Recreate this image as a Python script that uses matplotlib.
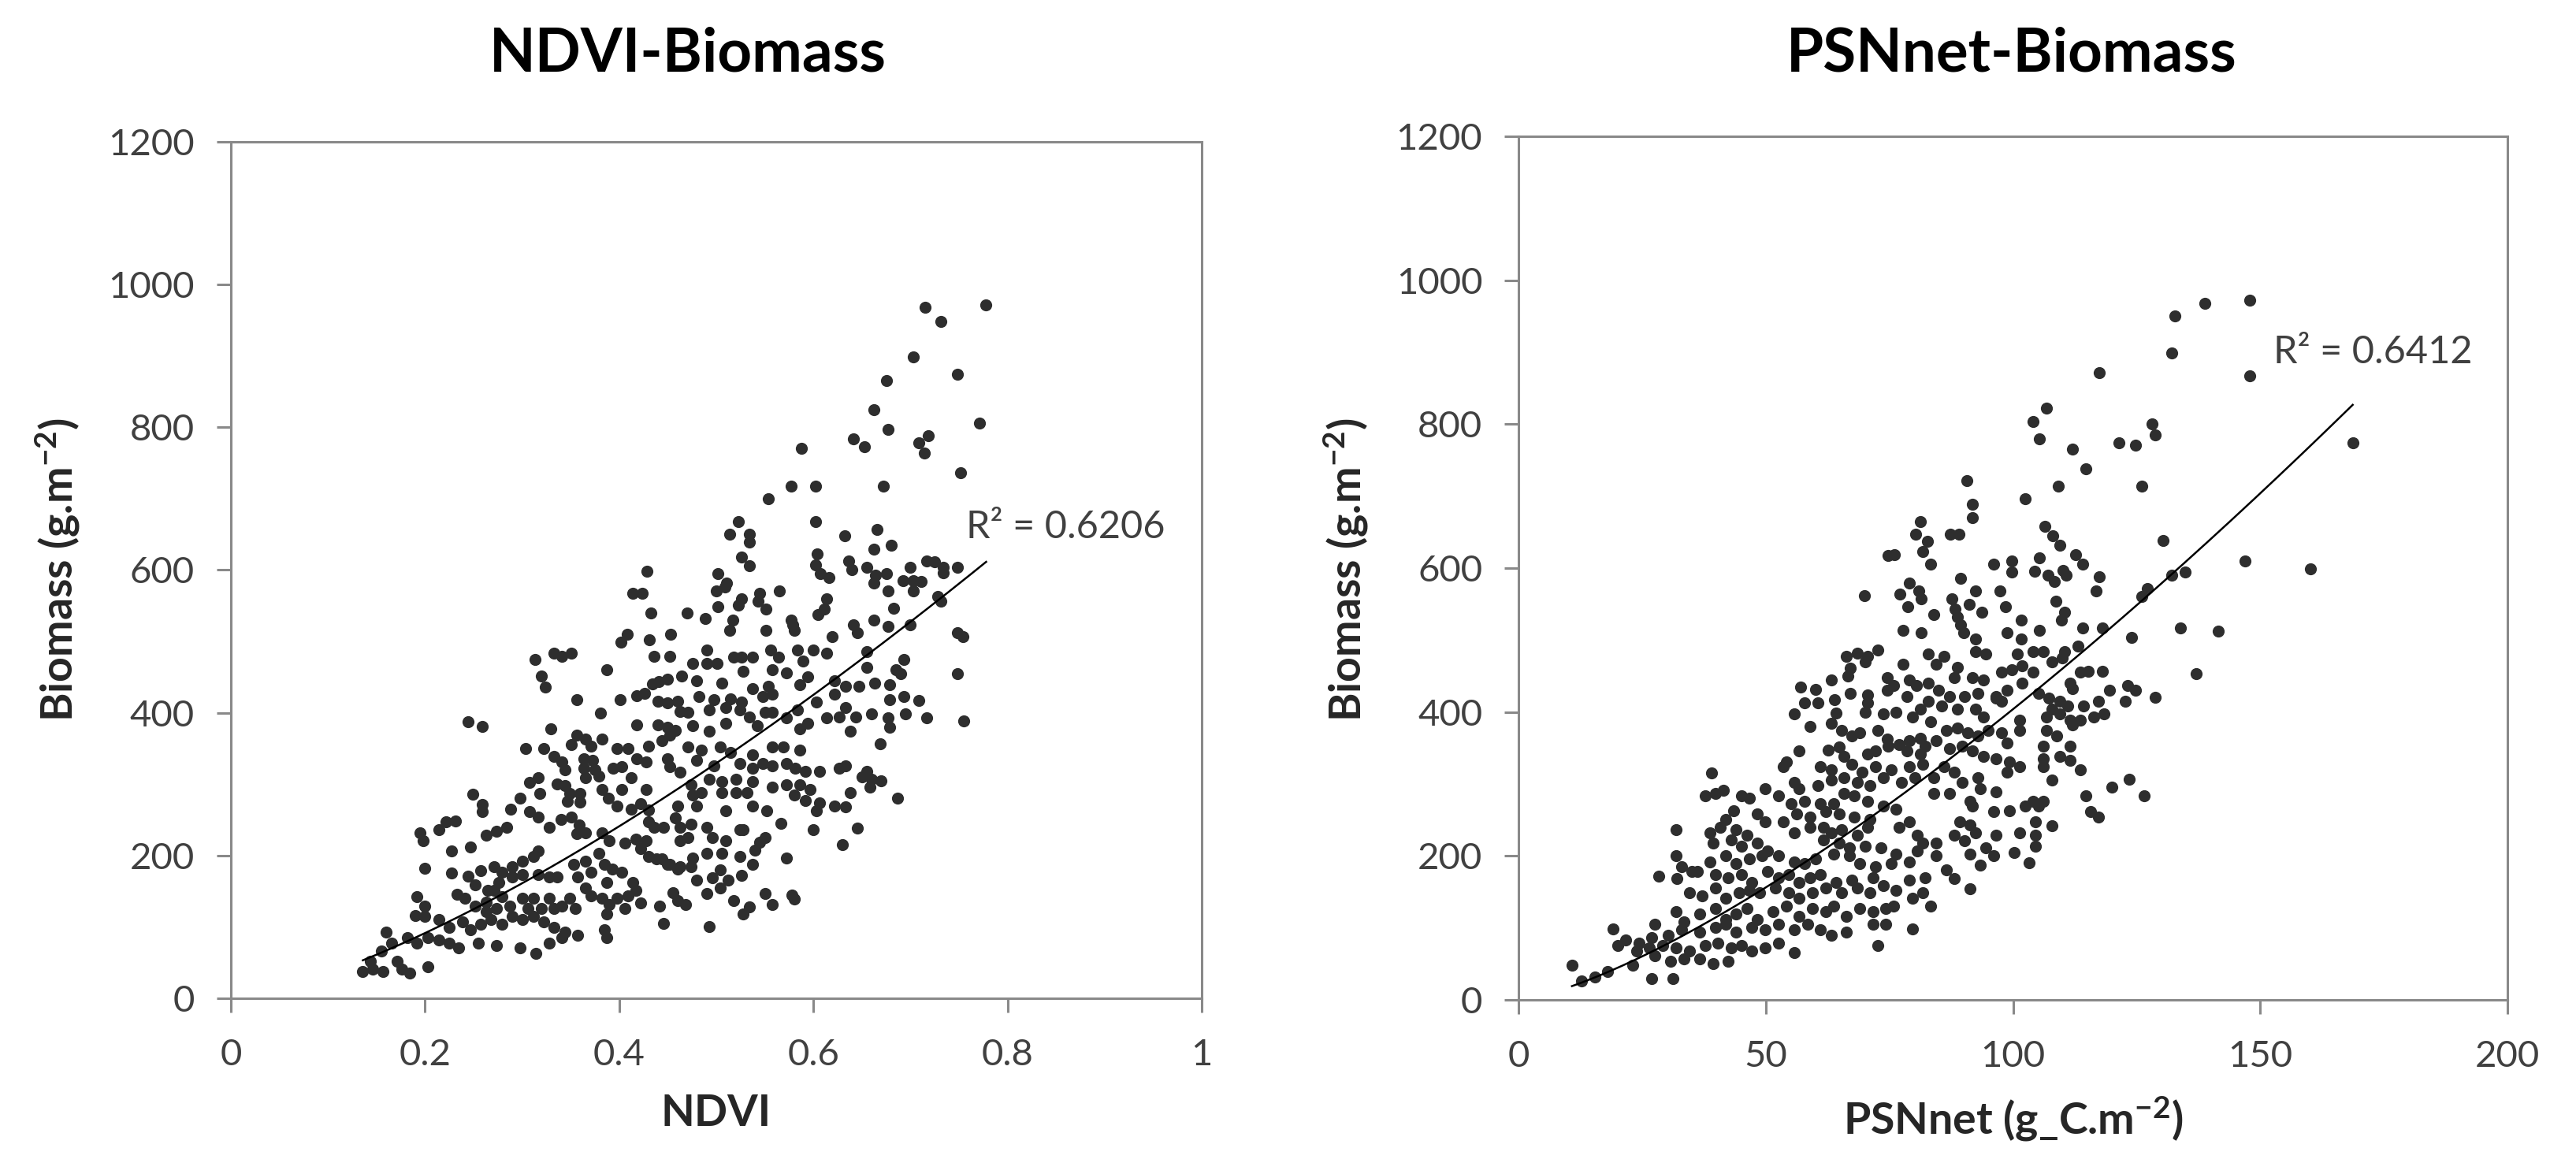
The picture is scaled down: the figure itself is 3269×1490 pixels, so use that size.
import matplotlib
matplotlib.use('Agg')
import matplotlib.pyplot as plt
import numpy as np

plt.rcParams['font.family'] = ['Lato', 'DejaVu Sans']
plt.rcParams['mathtext.default'] = 'regular'

# NDVI vs biomass (ndvi, g.m-2)
ndvi_pts = [
    (.715,968),(.778,972),(.731,948),(.703,899),(.748,874),(.675,866),(.662,825),(.771,806),(.677,797),(.641,784),
    (.653,773),(.718,788),(.709,778),(.714,764),(.588,770),(.752,736),(.672,718),(.577,718),(.602,718),(.554,700),
    (.523,668),(.514,650),(.534,650),(.534,639),(.602,668),(.666,657),(.632,648),(.662,629),(.680,635),(.526,618),
    (.534,606),(.604,623),(.602,607),(.607,595),(.616,590),(.636,613),(.640,601),(.655,604),(.664,593),(.675,595),
    (.662,582),(.677,571),(.700,604),(.692,585),(.703,585),(.711,584),(.703,571),(.717,613),(.725,612),(.734,604),
    (.748,604),(.734,596),(.728,563),(.731,556),(.683,546),(.700,523),(.748,512),(.754,507),(.429,598),(.414,567),
    (.424,567),(.502,595),(.511,582),(.500,571),(.509,576),(.545,567),(.543,556),(.551,545),(.565,571),(.526,560),
    (.523,551),(.433,540),(.470,540),(.489,532),(.502,549),(.614,560),(.611,545),(.605,538),(.662,530),(.677,521),
    (.641,523),(.645,512),(.577,530),(.579,523),(.580,516),(.551,516),(.517,530),(.514,516),(.453,510),(.408,510),
    (.431,502),(.402,499),(.619,507),
    (.313,475),(.333,483),(.341,479),(.351,483),(.436,479),(.452,479),(.387,460),(.320,452),(.324,436),(.356,418),
    (.401,418),(.418,424),(.426,427),(.434,440),(.441,444),(.450,447),(.464,452),(.440,416),(.450,414),(.460,416),
    (.381,400),(.418,383),(.440,383),(.450,380),(.458,375),(.463,402),(.244,387),(.259,381),(.330,378),(.304,350),
    (.322,350),(.356,369),(.365,363),(.382,363),(.351,355),(.371,353),(.398,350),(.409,350),(.430,353),(.444,361),
    (.452,369),(.333,339),(.341,331),(.344,320),(.364,336),(.373,333),(.364,322),(.375,320),(.365,309),(.379,311),
    (.394,322),(.403,325),(.412,309),(.418,336),(.428,331),(.450,336),(.452,325),(.463,317),(.403,293),(.428,293),
    (.249,286),(.259,271),(.259,262),(.288,265),(.298,280),(.308,302),(.317,309),(.318,287),(.336,300),(.344,298),
    (.349,287),(.360,287),(.347,276),(.360,275),(.382,293),(.389,280),(.398,269),(.412,265),(.422,273),(.430,264),
    (.460,269),(.458,253),(.463,240),(.308,262),(.317,254),(.328,240),(.340,251),(.351,254),(.359,243),(.365,232),
    (.356,231),(.382,232),(.390,221),(.406,217),(.417,223),(.430,247),(.436,240),(.446,240),(.422,210),(.428,221),
    (.463,221),(.438,195),(.450,188),(.460,181),(.195,232),(.198,221),(.214,236),(.222,247),(.231,248),(.227,206),
    (.247,212),(.263,229),(.274,234),(.284,240),(.200,182),(.227,175),(.244,171),(.257,179),(.271,184),(.279,177),
    (.290,184),(.300,192),(.312,199),(.317,206),(.252,159),(.265,151),(.276,162),(.290,170),(.300,173),(.317,173),
    (.328,170),(.336,170),(.353,188),(.365,192),(.371,177),(.357,170),(.379,203),(.385,188),(.393,181),(.403,177),
    (.414,162),(.387,162),(.430,199),(.444,195),(.452,188),(.463,184),(.365,155),(.371,144),(.382,140),(.390,131),
    (.398,140),(.409,144),(.417,151),(.422,133),(.406,126),(.387,118),(.442,129),(.455,148),(.460,137),(.446,105),
    (.192,142),(.200,129),(.190,116),(.200,115),(.233,146),(.241,140),(.252,129),(.263,135),(.271,151),(.279,142),
    (.263,121),(.274,126),(.287,129),(.300,140),(.312,140),(.306,126),(.320,126),(.328,140),(.333,126),(.341,129),
    (.349,140),(.355,126),(.214,110),(.225,99),(.239,107),(.247,96),(.257,104),(.268,110),(.279,104),(.290,115),
    (.300,110),(.312,115),(.322,107),(.333,99),(.344,93),(.357,88),(.385,96),(.387,85),(.160,93),(.166,77),
    (.182,85),(.192,77),(.203,85),(.214,82),(.225,77),(.235,71),(.255,77),(.274,74),(.298,71),(.314,63),
    (.328,77),(.341,85),(.136,38),(.146,41),(.157,38),(.171,52),(.176,41),(.184,35),(.203,44),(.144,52),(.155,66),
    (.490,488),(.526,478),(.518,478),(.537,478),(.556,488),(.564,478),(.584,488),(.600,488),(.614,483),(.589,473),
    (.476,469),(.490,469),(.501,469),(.528,458),(.558,460),(.572,456),(.594,450),(.586,439),(.655,486),(.655,464),
    (.693,475),(.685,460),(.690,455),(.748,455),(.480,445),(.506,442),(.537,434),(.554,437),(.558,426),(.633,437),
    (.647,437),(.663,442),(.679,439),(.622,445),(.482,423),(.498,418),(.515,420),(.526,415),(.548,423),(.622,426),
    (.633,407),(.603,415),(.679,418),(.693,423),(.709,417),(.695,398),(.717,393),(.755,389),(.471,401),(.493,404),
    (.510,407),(.524,404),(.534,394),(.550,401),(.558,401),(.572,393),(.584,404),(.594,385),(.614,393),(.627,394),
    (.644,394),(.660,398),(.677,393),(.679,380),(.476,382),(.493,374),(.510,385),(.542,382),(.586,378),(.638,374),
    (.669,356),(.471,352),(.485,348),(.504,352),(.515,344),(.537,341),(.558,352),(.569,352),(.586,348),(.480,333),
    (.498,326),(.524,329),(.537,322),(.548,329),(.558,326),(.572,329),(.581,322),(.592,318),(.606,318),(.627,322),
    (.633,326),(.655,318),(.650,310),(.660,307),(.670,305),(.658,296),(.474,299),(.493,307),(.506,304),(.520,307),
    (.537,304),(.558,296),(.572,299),(.586,299),(.597,293),(.476,285),(.485,288),(.506,288),(.520,288),(.532,288),
    (.580,285),(.592,277),(.606,274),(.622,269),(.633,268),(.638,288),(.687,280),(.480,269),(.510,263),(.537,269),
    (.552,263),(.603,263),(.474,244),(.490,240),(.524,236),(.528,236),(.567,245),(.600,236),(.645,238),(.471,225),
    (.496,225),(.510,221),(.550,225),(.545,218),(.630,215),(.476,196),(.490,203),(.506,203),(.524,199),(.540,207),
    (.572,197),(.474,184),(.504,180),(.537,188),(.526,172),(.480,166),(.496,169),(.512,166),(.504,155),(.490,147),
    (.518,137),(.550,147),(.558,131),(.578,145),(.580,139),(.534,128),(.528,118),(.493,100),(.468,131),
]

# PSNnet vs biomass (g_C.m-2, g.m-2)
psn_pts = [
    (66.3,477),(68.5,482),(70.6,477),(72.7,486),(70.1,470),(77.8,466),(66.6,450),(67.1,461),(63.2,444),(57.1,435),
    (60.0,431),(67.1,426),(70.6,424),(74.6,448),(75.9,437),(79.1,444),(80.4,437),(74.6,430),(78.6,422),(57.8,413),
    (60.5,413),(63.9,417),(70.6,413),(55.7,397),(64.2,399),(70.1,400),(73.8,397),(76.4,400),(79.6,393),(81.2,404),
    (58.9,380),(63.2,384),(65.3,375),(67.4,367),(69.0,371),(72.7,375),(74.6,362),(77.0,355),(79.1,360),(81.2,364),
    (56.8,346),(62.6,347),(64.8,351),(65.8,338),(70.6,342),(72.2,346),(74.8,353),(78.6,346),(81.2,342),(54.1,331),
    (53.6,324),(61.0,324),(63.2,320),(67.4,327),(69.5,316),(72.2,324),(75.4,320),(79.1,324),(39.0,315),(55.7,302),
    (56.8,293),(60.5,298),(63.2,305),(65.8,309),(68.5,302),(71.1,298),(73.8,309),(77.5,302),(80.2,309),(37.7,284),
    (39.8,287),(41.4,291),(45.1,284),(46.7,280),(49.9,293),(52.5,284),(55.2,273),(57.8,276),(61.0,273),(63.7,273),
    (65.8,287),(67.9,284),(70.6,276),(73.8,269),(76.4,265),(43.5,263),(41.9,251),(48.3,258),(49.9,247),(53.6,247),
    (56.3,258),(58.9,254),(62.1,262),(64.8,258),(67.9,254),(71.1,251),(77.0,240),(79.1,247),(80.7,229),(31.8,236),
    (38.7,232),(40.8,240),(44.0,236),(46.2,229),(55.7,232),(58.9,240),(61.6,240),(63.2,232),(65.3,236),(68.5,229),
    (70.6,240),(39.3,218),(43.0,222),(45.1,214),(48.3,218),(50.4,207),(61.6,222),(64.8,218),(66.9,211),(70.1,214),
    (73.3,211),(76.4,203),(80.7,207),(31.8,200),(35.0,178),(32.9,185),(38.7,192),(41.9,200),(44.0,189),(46.7,196),
    (49.3,200),(52.5,200),(55.7,192),(57.8,189),(60.0,196),(63.7,203),(66.9,200),(69.0,189),(72.2,185),(75.4,189),
    (79.1,192),(28.4,172),(32.1,169),(36.1,178),(39.8,174),(42.4,170),(45.1,174),(47.2,163),(50.4,178),(52.5,170),
    (54.7,174),(56.8,163),(58.9,170),(61.0,174),(64.2,163),(67.4,167),(71.7,170),(73.8,159),(79.1,167),(34.5,149),
    (37.1,145),(39.8,156),(41.9,141),(44.6,149),(46.7,152),(48.8,149),(52.0,156),(54.7,149),(56.8,141),(59.4,149),
    (62.1,156),(65.3,149),(68.5,156),(71.1,149),(76.4,152),(79.6,141),(31.8,123),(33.4,108),(36.6,119),(39.8,127),
    (41.9,112),(44.0,119),(46.2,127),(48.3,112),(51.5,123),(54.1,130),(56.8,116),(59.4,127),(62.1,123),(63.7,130),
    (66.3,116),(69.0,127),(71.7,123),(74.3,127),(75.9,130),(19.1,99),(27.6,105),(21.7,83),(24.4,79),(27.0,86),
    (30.2,90),(32.9,97),(36.6,94),(39.8,101),(41.9,105),(44.0,94),(47.2,101),(49.9,97),(52.5,105),(55.7,97),
    (58.4,105),(61.0,97),(63.2,90),(66.3,94),(71.7,105),(74.3,105),(79.6,99),(20.1,76),(23.9,68),(26.5,72),
    (29.2,76),(31.8,72),(34.5,68),(37.7,76),(40.3,79),(43.0,72),(45.1,76),(47.2,68),(49.9,72),(52.5,79),
    (55.7,66),(72.7,76),(10.8,48),(23.1,48),(27.6,61),(30.8,54),(33.4,57),(36.6,57),(39.3,50),(42.4,54),
    (27.0,30),(31.3,30),(18.0,39),(15.4,32),(12.7,26),
    (82.8,481),(86.0,477),(88.7,462),(92.4,484),(94.5,481),(100.9,481),(104.1,484),(106.2,484),(110.4,484),(113.1,492),
    (84.4,466),(88.1,448),(91.8,448),(94.0,444),(97.7,455),(99.8,459),(101.9,464),(104.1,455),(107.8,470),(109.9,475),
    (82.8,440),(84.9,430),(87.1,422),(90.2,422),(92.9,426),(96.6,422),(98.8,430),(101.9,440),(105.1,426),(107.2,419),
    (109.4,415),(111.0,408),(111.5,440),(112.0,433),(113.6,455),(115.2,457),(118.1,457),(119.5,430),(117.3,415),(114.2,408),
    (123.2,437),(124.8,430),(122.7,415),(128.8,420),(137.0,453),(82.8,415),(85.5,408),(88.7,404),(92.4,404),(94.0,393),
    (96.6,419),(97.7,415),(101.4,389),(101.4,375),(106.7,393),(107.8,404),(109.4,397),(111.5,389),(112.0,382),(113.6,389),
    (116.3,393),(118.4,397),(83.3,386),(86.5,375),(88.7,378),(90.8,371),(92.9,367),(95.0,375),(97.7,371),(98.8,357),
    (106.7,375),(108.8,367),(106.2,353),(111.5,353),(109.4,338),(111.5,333),(113.6,320),(82.3,353),(84.4,360),(87.1,349),
    (89.7,353),(91.8,346),(94.0,338),(96.6,335),(99.3,331),(101.4,324),(98.8,316),(106.2,335),(106.2,324),(107.8,305),
    (81.8,327),(83.9,309),(86.0,324),(88.1,316),(89.7,302),(92.9,309),(93.4,294),(83.9,287),(87.1,287),(96.6,289),
    (91.3,276),(91.8,269),(96.1,262),(99.3,263),(102.5,269),(104.1,276),(106.2,276),(105.1,269),(114.7,284),(120.0,296),
    (123.5,307),(126.6,284),(115.7,262),(117.3,254),(89.2,247),(91.3,243),(92.4,232),(88.1,229),(90.2,221),(84.4,218),
    (81.8,218),(96.6,229),(101.4,232),(104.6,247),(104.6,229),(107.8,242),(104.6,214),(91.3,203),(94.5,211),(96.1,200),
    (100.3,205),(84.4,200),(93.4,187),(103.3,190),(86.5,181),(88.1,169),(82.3,170),(91.3,154),(81.8,149),(83.3,130),
    (132.7,950),(138.8,968),(147.9,972),(132.1,899),(147.9,867),(117.5,871),(168.7,774),(106.8,822),(104.0,804),(105.3,780),
    (112.0,765),(114.7,738),(121.4,774),(124.8,771),(128.1,800),(128.7,785),(109.2,714),(126.0,714),(90.6,721),(91.8,689),
    (91.8,670),(102.5,696),(81.2,665),(80.3,647),(82.7,637),(81.8,623),(83.3,605),(87.3,647),(89.1,647),(76.0,619),
    (106.5,658),(108.0,645),(109.5,632),(112.6,619),(114.1,605),(99.8,610),(99.8,595),(96.1,605),(105.3,614),(104.3,596),
    (107.1,590),(108.3,581),(110.1,597),(110.7,590),(117.5,588),(116.8,568),(89.4,586),(130.3,638),(147.0,610),(160.1,599),
    (132.1,590),(134.8,595),(126.0,561),(127.2,572),(108.6,554),(79.0,579),(80.9,568),(77.2,564),(81.5,557),(78.7,546),
    (87.6,557),(88.2,543),(88.8,532),(89.4,521),(83.9,535),(92.5,568),(91.2,550),(93.7,539),(97.3,568),(98.5,546),
    (101.6,528),(110.4,539),(109.8,528),(114.1,517),(118.1,517),(105.3,513),(133.9,517),(141.5,512),(123.9,504),(77.8,513),
    (81.5,510),(98.8,510),(101.6,502),(92.5,502),(90.0,510),(69.9,562),(74.8,618),
]

ndvi, ndvi_bio = np.array(ndvi_pts).T
psn, psn_bio = np.array(psn_pts).T

# power trendlines y = a * x**b
trend_a = [869.0, 0.735]
trend_b = [1.40, 1.37]

titles = ['NDVI-Biomass', 'PSNnet-Biomass']
xlabels = ['NDVI', 'PSNnet (g_C.m$^{-2}$)']
r2_text = ['R² = 0.6206', 'R² = 0.6412']
xticks = [[0, 0.2, 0.4, 0.6, 0.8, 1], [0, 50, 100, 150, 200]]
xticklabels = [['0', '0.2', '0.4', '0.6', '0.8', '1'], ['0', '50', '100', '150', '200']]
yticks = [0, 200, 400, 600, 800, 1000, 1200]

fig = plt.figure(figsize=(16.345, 7.45), dpi=200)
ax1 = fig.add_axes([0.0896, 0.1497, 0.3769, 0.7295])
ax2 = fig.add_axes([0.5895, 0.1483, 0.3839, 0.7356])

grey = '#898989'
txt = '#404040'
datasets = [(ndvi, ndvi_bio), (psn, psn_bio)]
xlims = [(0, 1), (0, 200)]
r2_pos = [(0.757, 660), (152.6, 900)]
title_x = [0.267, 0.781]
ylab_x = [73 / 3269, 1708 / 3269]

for i, ax in enumerate([ax1, ax2]):
    x, y = datasets[i]
    ax.scatter(x, y, s=30, color='#2e2e2e', linewidths=0, zorder=3)
    xx = np.linspace(x.min(), x.max(), 200)
    ax.plot(xx, trend_a[i] * xx ** trend_b[i], color='black', lw=0.9, zorder=4)
    ax.set_xlim(*xlims[i])
    ax.set_ylim(0, 1200)
    ax.set_xticks(xticks[i])
    ax.set_xticklabels(xticklabels[i])
    ax.set_yticks(yticks)
    for s in ax.spines.values():
        s.set_color(grey)
        s.set_linewidth(1.1)
    ax.tick_params(axis='both', direction='out', length=6.5, width=1.1, color=grey,
                   labelcolor=txt, labelsize=17)
    ax.tick_params(axis='x', pad=12)
    ax.tick_params(axis='y', pad=10)
    ax.text(r2_pos[i][0], r2_pos[i][1], r2_text[i], fontsize=17.5, color=txt,
            ha='left', va='center')
    fig.text(title_x[i], 0.954, titles[i], fontsize=27.5, fontweight='bold',
             ha='center', va='center', color='black')
    fig.text(ylab_x[i], 0.515, 'Biomass (g.m$^{-2}$)', rotation=90, fontsize=20,
             fontweight='bold', ha='center', va='center', color='#262626')
    ax.set_xlabel(xlabels[i], fontsize=20, fontweight='bold', color='#262626', labelpad=10)

fig.savefig('out.png', dpi=200)
